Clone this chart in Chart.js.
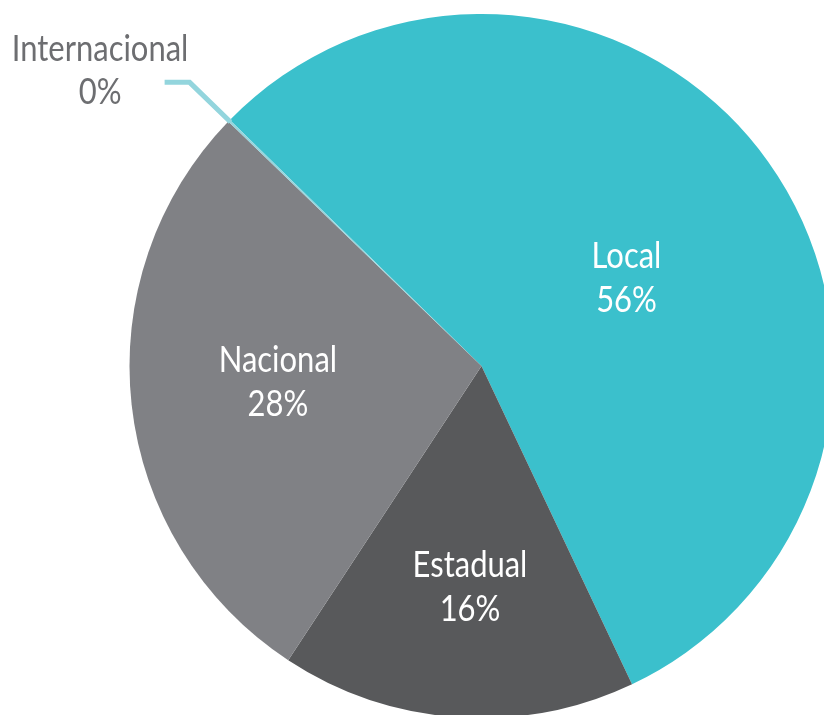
<!DOCTYPE html>
<html>
<head>
<meta charset="utf-8">
<script src="https://cdn.jsdelivr.net/npm/chart.js@4"></script>
<style>
  html, body { margin: 0; padding: 0; background: #ffffff; overflow: hidden; width: 824px; height: 715px; }
  #wrap { position: absolute; left: 0; top: 0; width: 900px; height: 780px; }
  canvas { display: block; }
</style>
</head>
<body>
<div id="wrap"><canvas id="c" width="900" height="780"></canvas></div>
<script>
const categories = ["Local", "Estadual", "Nacional", "Internacional"];
const values = [55.7, 16.3, 28.0, 0.1];
const colors = ["#3bc0cc", "#58595b", "#808185", "#93d5dd"];

const FONT = '36px Lato, "Liberation Sans", sans-serif';
const SX = 0.86;

function drawText(ctx, text, x, y) {
  ctx.save();
  ctx.translate(x, y);
  ctx.scale(SX, 1);
  ctx.fillText(text, 0, 0);
  ctx.restore();
}

const labelPlugin = {
  id: 'sliceLabels',
  afterDatasetsDraw(chart, args, opts) {
    const ctx = chart.ctx;
    const meta = chart.getDatasetMeta(0);
    const data = chart.data.datasets[0].data;
    const total = data.reduce((a, b) => a + b, 0);
    ctx.save();
    ctx.font = FONT;
    ctx.textAlign = 'center';
    ctx.textBaseline = 'alphabetic';
    meta.data.forEach((arc, i) => {
      const p = arc.getProps(['x', 'y', 'startAngle', 'endAngle', 'outerRadius'], true);
      const mid = (p.startAngle + p.endAngle) / 2;
      const pct = Math.round(data[i] / total * 100) + '%';
      const name = chart.data.labels[i];
      if (data[i] / total >= 0.02) {
        const a = mid + opts.angleOffset[i] * Math.PI / 180;
        const r = p.outerRadius * opts.radiusFactor[i];
        const cx = p.x + Math.cos(a) * r;
        const cy = p.y + Math.sin(a) * r;
        ctx.fillStyle = '#ffffff';
        drawText(ctx, name, cx, cy - 9);
        drawText(ctx, pct, cx, cy + 35);
      } else {
        const x0 = p.x + Math.cos(mid) * (p.outerRadius - 2);
        const y0 = p.y + Math.sin(mid) * (p.outerRadius - 2);
        const x1 = p.x + Math.cos(mid) * (p.outerRadius + 55);
        const y1 = p.y + Math.sin(mid) * (p.outerRadius + 55);
        const x2 = x1 - 25, y2 = y1;
        ctx.strokeStyle = colors[i];
        ctx.lineWidth = 5;
        ctx.lineJoin = 'miter';
        ctx.beginPath();
        ctx.moveTo(x0, y0);
        ctx.lineTo(x1, y1);
        ctx.lineTo(x2, y2);
        ctx.stroke();
        ctx.fillStyle = '#6d6e71';
        const tx = x2 - 64.5;
        drawText(ctx, name, tx, y2 - 21);
        drawText(ctx, pct, tx, y2 + 22);
      }
    });
    ctx.restore();
  }
};

new Chart(document.getElementById('c'), {
  type: 'pie',
  data: {
    labels: categories,
    datasets: [{
      data: values,
      backgroundColor: colors,
      borderWidth: 0
    }]
  },
  options: {
    responsive: false,
    animation: false,
    rotation: -45.64,
    layout: { padding: { left: 129.5, top: 14, right: 66.5, bottom: 62 } },
    plugins: {
      legend: { display: false },
      tooltip: { enabled: false },
      sliceLabels: { radiusFactor: [0.483, 0.625, 0.58, 1], angleOffset: [4, -1, 2, 0] }
    }
  },
  plugins: [labelPlugin]
});
</script>
</body>
</html>
